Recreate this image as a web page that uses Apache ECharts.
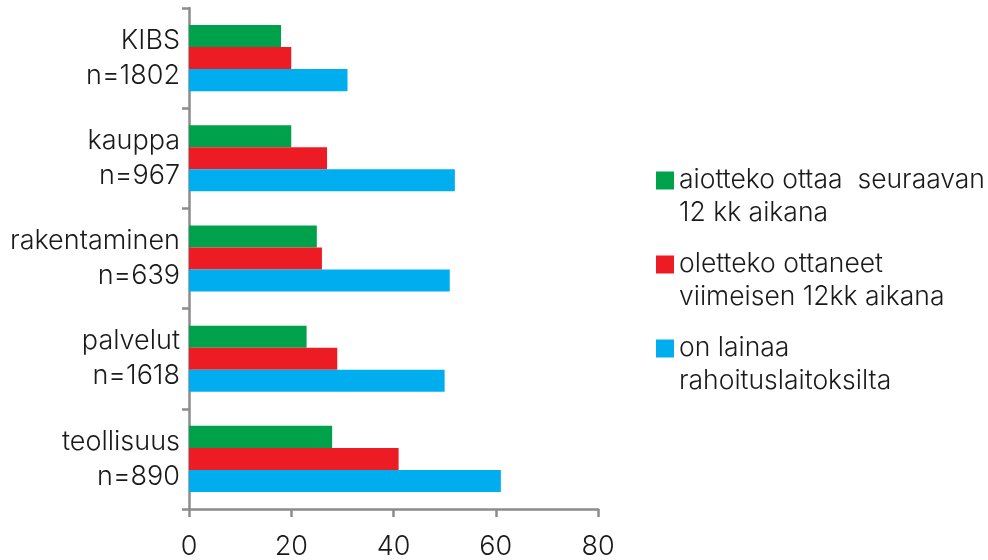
<!DOCTYPE html>
<html><head><meta charset="utf-8">
<script src="https://cdn.jsdelivr.net/npm/echarts@6/dist/echarts.min.js"></script>
<style>html,body{margin:0;padding:0;background:#fff}#c{width:988px;height:560px}</style>
</head><body><div id="c"></div>
<script>
const categories = ['teollisuus\nn=890', 'palvelut\nn=1618', 'rakentaminen\nn=639', 'kauppa\nn=967', 'KIBS\nn=1802'];
const seriesNames = ['aiotteko ottaa  seuraavan\n12 kk aikana', 'oletteko ottaneet\nviimeisen 12kk aikana', 'on lainaa\nrahoituslaitoksilta'];
const aiotteko = [28, 23, 25, 20, 18];
const oletteko = [41, 29, 26, 27, 20];
const onLainaa = [61, 50, 51, 52, 31];
const xTicks = [0, 20, 40, 60, 80];
const colors = ['#00A14B', '#ED1C24', '#00AEEF'];

const chart = echarts.init(document.getElementById('c'));
const font = 'Inter, "Liberation Sans", sans-serif';
const axisGray = '#8c8c8c';
const textColor = '#1a1a1a';
chart.setOption({
  animation: false,
  textStyle: { fontFamily: font },
  grid: { left: 189, right: 390, top: 8, bottom: 51, containLabel: false },
  legend: {
    orient: 'vertical', left: 656, top: 131, padding: 0,
    itemWidth: 18, itemHeight: 18, itemGap: -15,
    icon: 'rect',
    data: seriesNames,
    formatter: function (name) { return ' \n' + name; },
    textStyle: { fontFamily: font, fontWeight: 300, fontSize: 26.5, color: textColor, lineHeight: 33 }
  },
  xAxis: {
    type: 'value', min: xTicks[0], max: xTicks[xTicks.length - 1], interval: 20,
    splitLine: { show: false },
    axisLine: { show: true, lineStyle: { color: axisGray, width: 2.5 } },
    axisTick: { show: true, length: 8, lineStyle: { color: axisGray, width: 2.5 } },
    axisLabel: { fontFamily: font, fontWeight: 300, fontSize: 27, color: textColor, margin: 24 }
  },
  yAxis: {
    type: 'category', data: categories,
    axisLine: { show: true, lineStyle: { color: axisGray, width: 2.5 } },
    axisTick: { show: true, length: 7, lineStyle: { color: axisGray, width: 2.5 } },
    axisLabel: { fontFamily: font, fontWeight: 300, fontSize: 27, color: textColor, margin: 9, lineHeight: 35, align: 'right' }
  },
  series: [
    { name: seriesNames[0], type: 'bar', data: aiotteko, itemStyle: { color: colors[0] }, barGap: '0%', barCategoryGap: '34%' },
    { name: seriesNames[1], type: 'bar', data: oletteko, itemStyle: { color: colors[1] }, barGap: '0%', barCategoryGap: '34%' },
    { name: seriesNames[2], type: 'bar', data: onLainaa, itemStyle: { color: colors[2] }, barGap: '0%', barCategoryGap: '34%' }
  ]
});
</script></body></html>
